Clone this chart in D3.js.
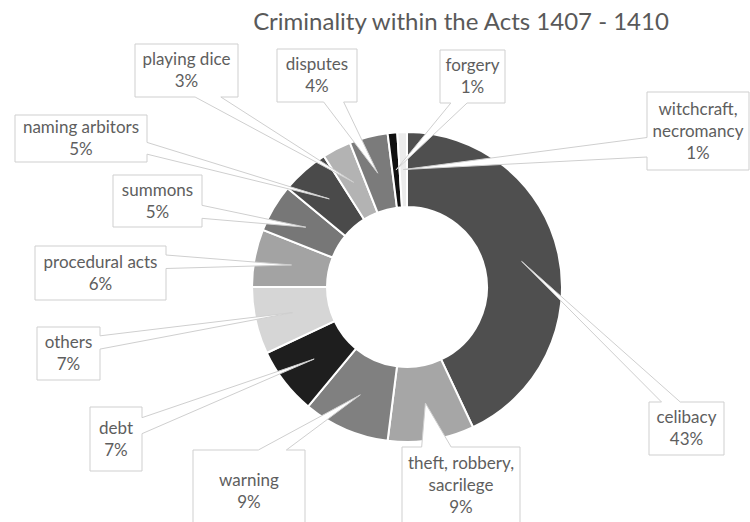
<!DOCTYPE html>
<html>
<head>
<meta charset="utf-8">
<script src="https://cdn.jsdelivr.net/npm/d3@7"></script>
<style>
  html, body { margin: 0; padding: 0; background: #fff; }
  svg { display: block; font-family: Lato, 'Open Sans', sans-serif; }
</style>
</head>
<body>
<div id="chart"></div>
<script>
// data, clockwise from 12 o'clock
const categories = [
	'celibacy',
	'theft, robbery,\nsacrilege',
	'warning',
	'debt',
	'others',
	'procedural acts',
	'summons',
	'naming arbitors',
	'playing dice',
	'disputes',
	'forgery',
	'witchcraft,\nnecromancy'
];
const values = [ 43, 9, 9, 7, 7, 6, 5, 5, 3, 4, 1, 1 ];
const sliceColors = [
	'#4f4f4f', '#a6a6a6', '#808080', '#1e1e1e', '#d6d6d6', '#a3a3a3',
	'#777777', '#4a4a4a', '#b3b3b3', '#7b7b7b', '#111111', '#ececec'
];
const title = 'Criminality within the Acts 1407 - 1410';

// callout boxes [x, y, w, h], same order as categories
const calloutBoxes = [
	[ 649, 402, 75, 53 ],
	[ 402, 447, 118, 76 ],
	[ 193, 450, 112, 82 ],
	[ 90, 407, 52, 64 ],
	[ 37, 327, 63, 53 ],
	[ 35, 246, 131, 54 ],
	[ 113, 175, 89, 52 ],
	[ 15, 115, 132, 47 ],
	[ 135, 44, 103, 53 ],
	[ 277, 49, 80, 53 ],
	[ 440, 50, 65, 53 ],
	[ 647, 92, 102, 78 ]
];

const width = 750;
const height = 522;
const cx = 407;
const cy = 287;
const outerR = 155;
const innerR = 80;

const svg = d3
	.select('#chart')
	.append('svg')
	.attr('width', width)
	.attr('height', height);

svg
	.append('text')
	.attr('x', 461)
	.attr('y', 30)
	.attr('text-anchor', 'middle')
	.style('font-size', '24px')
	.style('fill', '#595959')
	.text(title);

const data = categories.map((c, i) => ({ name: c, value: values[i], color: sliceColors[i], box: calloutBoxes[i] }));
const total = d3.sum(values);
const pct = d3.format('.0%');

const pie = d3.pie().sort(null).value((d) => d.value);
const arc = d3.arc().innerRadius(innerR).outerRadius(outerR);
const arcs = pie(data);

const g = svg.append('g').attr('transform', `translate(${cx}, ${cy})`);

g
	.selectAll('path.slice')
	.data(arcs)
	.enter()
	.append('path')
	.attr('class', 'slice')
	.attr('d', arc)
	.style('fill', (d) => d.data.color)
	.style('stroke', '#fff')
	.style('stroke-width', 2);

// rectangle callout with a wedge pointing at the ring centroid
function calloutPath(box, tip) {
	const [ x, y, w, h ] = box;
	const x1 = x + w;
	const y1 = y + h;
	const dxPos = tip[0] - (x + w / 2);
	const dyPos = tip[1] - (y + h / 2);
	const inside = Math.abs(dxPos) <= w / 2 && Math.abs(dyPos) <= h / 2;
	const horiz = Math.abs(dxPos) / w > Math.abs(dyPos) / h;
	const bx = dxPos > 0 ? [ x + w * 7 / 12, x + w * 10 / 12 ] : [ x + w * 2 / 12, x + w * 5 / 12 ];
	const by = dyPos > 0 ? [ y + h * 7 / 12, y + h * 10 / 12 ] : [ y + h * 2 / 12, y + h * 5 / 12 ];
	const t = `${tip[0]},${tip[1]}`;
	let p = `M${x},${y}`;
	if (!inside && !horiz && dyPos < 0) p += `L${bx[0]},${y}L${t}L${bx[1]},${y}`;
	p += `L${x1},${y}`;
	if (!inside && horiz && dxPos > 0) p += `L${x1},${by[0]}L${t}L${x1},${by[1]}`;
	p += `L${x1},${y1}`;
	if (!inside && !horiz && dyPos > 0) p += `L${bx[1]},${y1}L${t}L${bx[0]},${y1}`;
	p += `L${x},${y1}`;
	if (!inside && horiz && dxPos < 0) p += `L${x},${by[1]}L${t}L${x},${by[0]}`;
	return p + 'Z';
}

const labels = svg
	.selectAll('g.callout')
	.data(arcs)
	.enter()
	.append('g')
	.attr('class', 'callout');

labels
	.append('path')
	.attr('d', (d) => {
		const c = arc.centroid(d);
		return calloutPath(d.data.box, [ cx + c[0], cy + c[1] ]);
	})
	.style('fill', '#fff')
	.style('stroke', '#cfcfcf')
	.style('stroke-width', 1);

const lineH = 22;
labels.each(function(d) {
	const lines = d.data.name.split('\n').concat(pct(d.data.value / total));
	const [ x, y, w, h ] = d.data.box;
	const top = y + h / 2 - (lines.length - 1) * lineH / 2;
	const text = d3
		.select(this)
		.append('text')
		.attr('text-anchor', 'middle')
		.style('font-size', '17px')
		.style('fill', '#5e5e5e');
	lines.forEach((l, i) => {
		text.append('tspan').attr('x', x + w / 2).attr('y', top + i * lineH).attr('dy', '0.35em').text(l);
	});
});
</script>
</body>
</html>
